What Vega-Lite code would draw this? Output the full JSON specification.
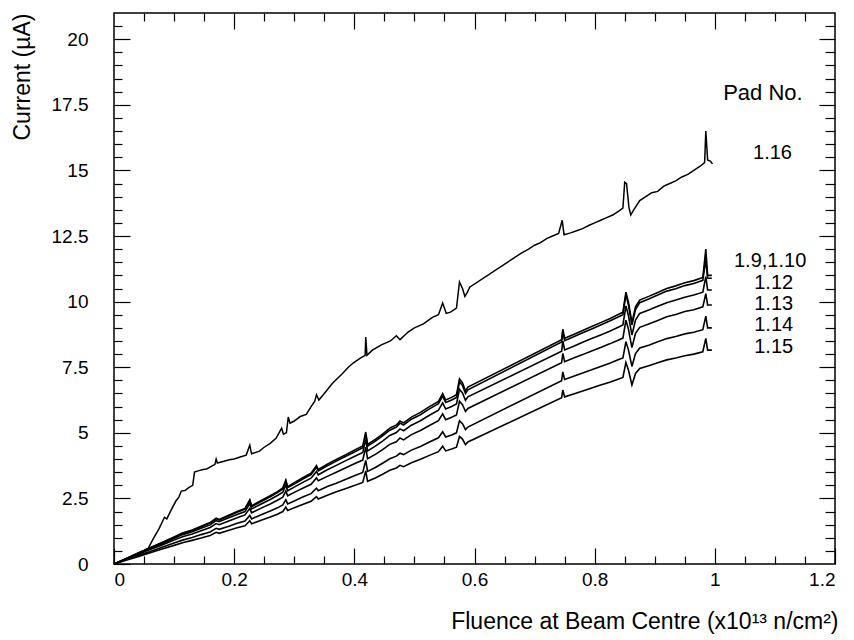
{
  "$schema": "https://vega.github.io/schema/vega-lite/v6.json",
  "autosize": {"type": "none"},
  "width": 721,
  "height": 551,
  "padding": {"left": 114, "top": 13, "right": 19, "bottom": 76},
  "background": "white",
  "config": {
    "view": {"stroke": "black", "strokeWidth": 1.5},
    "font": "Liberation Sans",
    "axis": {"domain": false, "grid": false, "tickColor": "black", "tickWidth": 1.2, "labelColor": "black", "titleColor": "black", "labelFont": "Liberation Sans", "titleFont": "Liberation Sans", "titleFontWeight": "normal", "labelFontSize": 19, "titleFontSize": 23}
  },
  "datasets": {
    "pad116": [
      {"x":0,"y":0},{"x":0.01,"y":0.1},{"x":0.02,"y":0.2},{"x":0.03,"y":0.32},{"x":0.04,"y":0.42},{"x":0.05,"y":0.52},{"x":0.057,"y":0.6},
      {"x":0.065,"y":0.95},{"x":0.075,"y":1.35},{"x":0.084,"y":1.78},{"x":0.088,"y":1.72},{"x":0.095,"y":2.05},{"x":0.103,"y":2.4},{"x":0.108,"y":2.55},
      {"x":0.112,"y":2.78},{"x":0.118,"y":2.8},{"x":0.125,"y":2.92},{"x":0.131,"y":3.0},{"x":0.134,"y":3.5},{"x":0.14,"y":3.55},{"x":0.148,"y":3.6},
      {"x":0.154,"y":3.62},{"x":0.162,"y":3.72},{"x":0.168,"y":3.8},{"x":0.17,"y":4.0},{"x":0.172,"y":3.85},{"x":0.18,"y":3.9},{"x":0.192,"y":3.97},
      {"x":0.2,"y":4.0},{"x":0.21,"y":4.08},{"x":0.22,"y":4.15},{"x":0.226,"y":4.53},{"x":0.229,"y":4.2},{"x":0.242,"y":4.3},{"x":0.25,"y":4.45},
      {"x":0.26,"y":4.6},{"x":0.27,"y":4.8},{"x":0.279,"y":5.18},{"x":0.282,"y":4.95},{"x":0.287,"y":5.0},{"x":0.29,"y":5.6},{"x":0.293,"y":5.37},
      {"x":0.3,"y":5.45},{"x":0.31,"y":5.62},{"x":0.32,"y":5.7},{"x":0.328,"y":6.0},{"x":0.334,"y":6.2},{"x":0.337,"y":6.45},{"x":0.341,"y":6.25},
      {"x":0.35,"y":6.5},{"x":0.364,"y":6.9},{"x":0.38,"y":7.25},{"x":0.39,"y":7.5},{"x":0.398,"y":7.66},{"x":0.41,"y":7.85},{"x":0.418,"y":7.95},
      {"x":0.419,"y":8.65},{"x":0.421,"y":7.95},{"x":0.43,"y":8.15},{"x":0.445,"y":8.35},{"x":0.46,"y":8.5},{"x":0.47,"y":8.7},{"x":0.476,"y":8.55},
      {"x":0.49,"y":8.85},{"x":0.5,"y":9.0},{"x":0.515,"y":9.15},{"x":0.53,"y":9.4},{"x":0.54,"y":9.5},{"x":0.547,"y":9.95},{"x":0.553,"y":9.55},
      {"x":0.56,"y":9.6},{"x":0.57,"y":9.75},{"x":0.575,"y":10.75},{"x":0.58,"y":10.5},{"x":0.584,"y":10.2},{"x":0.588,"y":10.35},{"x":0.592,"y":10.55},
      {"x":0.678,"y":11.85},{"x":0.69,"y":12.0},{"x":0.7,"y":12.15},{"x":0.71,"y":12.25},{"x":0.72,"y":12.4},{"x":0.73,"y":12.5},{"x":0.74,"y":12.6},
      {"x":0.746,"y":13.1},{"x":0.749,"y":12.55},{"x":0.76,"y":12.62},{"x":0.77,"y":12.7},{"x":0.78,"y":12.78},{"x":0.79,"y":12.9},{"x":0.8,"y":13.0},
      {"x":0.81,"y":13.1},{"x":0.82,"y":13.2},{"x":0.83,"y":13.3},{"x":0.84,"y":13.45},{"x":0.847,"y":13.56},{"x":0.85,"y":14.55},{"x":0.853,"y":14.5},
      {"x":0.857,"y":13.6},{"x":0.86,"y":13.3},{"x":0.865,"y":13.5},{"x":0.875,"y":13.85},{"x":0.885,"y":14.0},{"x":0.895,"y":14.15},{"x":0.905,"y":14.2},
      {"x":0.915,"y":14.4},{"x":0.925,"y":14.5},{"x":0.935,"y":14.6},{"x":0.945,"y":14.75},{"x":0.955,"y":14.85},{"x":0.965,"y":15.0},{"x":0.975,"y":15.15},
      {"x":0.983,"y":15.3},{"x":0.985,"y":16.5},{"x":0.988,"y":15.4},{"x":0.993,"y":15.35},{"x":0.996,"y":15.25}
    ],
    "lower": [
      {"x":0,"p19":0,"p110":0,"p112":0,"p113":0,"p114":0,"p115":0},
      {"x":0.02,"p19":0.2,"p110":0.2,"p112":0.19,"p113":0.18,"p114":0.16,"p115":0.14},
      {"x":0.04,"p19":0.41,"p110":0.4,"p112":0.39,"p113":0.36,"p114":0.32,"p115":0.28},
      {"x":0.059,"p19":0.61,"p110":0.6,"p112":0.58,"p113":0.54,"p114":0.47,"p115":0.42},
      {"x":0.08,"p19":0.82,"p110":0.81,"p112":0.77,"p113":0.72,"p114":0.64,"p115":0.57},
      {"x":0.1,"p19":1.03,"p110":1.01,"p112":0.97,"p113":0.91,"p114":0.8,"p115":0.71},
      {"x":0.114,"p19":1.18,"p110":1.16,"p112":1.12,"p113":1.04,"p114":0.91,"p115":0.81},
      {"x":0.13,"p19":1.3,"p110":1.28,"p112":1.23,"p113":1.14,"p114":1.01,"p115":0.9},
      {"x":0.145,"p19":1.44,"p110":1.42,"p112":1.36,"p113":1.27,"p114":1.12,"p115":0.99},
      {"x":0.16,"p19":1.58,"p110":1.56,"p112":1.49,"p113":1.39,"p114":1.22,"p115":1.09},
      {"x":0.17,"p19":1.75,"p110":1.72,"p112":1.65,"p113":1.54,"p114":1.36,"p115":1.21},
      {"x":0.175,"p19":1.7,"p110":1.67,"p112":1.61,"p113":1.5,"p114":1.32,"p115":1.17},
      {"x":0.19,"p19":1.85,"p110":1.82,"p112":1.75,"p113":1.63,"p114":1.43,"p115":1.28},
      {"x":0.205,"p19":2.0,"p110":1.97,"p112":1.89,"p113":1.76,"p114":1.55,"p115":1.38},
      {"x":0.218,"p19":2.12,"p110":2.09,"p112":2.0,"p113":1.87,"p114":1.64,"p115":1.46},
      {"x":0.226,"p19":2.45,"p110":2.41,"p112":2.3,"p113":2.12,"p114":1.85,"p115":1.65},
      {"x":0.229,"p19":2.22,"p110":2.19,"p112":2.1,"p113":1.95,"p114":1.72,"p115":1.53},
      {"x":0.245,"p19":2.42,"p110":2.38,"p112":2.29,"p113":2.13,"p114":1.88,"p115":1.67},
      {"x":0.26,"p19":2.6,"p110":2.56,"p112":2.46,"p113":2.29,"p114":2.02,"p115":1.79},
      {"x":0.272,"p19":2.76,"p110":2.72,"p112":2.61,"p113":2.43,"p114":2.14,"p115":1.9},
      {"x":0.281,"p19":2.9,"p110":2.86,"p112":2.74,"p113":2.55,"p114":2.25,"p115":2.0},
      {"x":0.286,"p19":3.2,"p110":3.15,"p112":3.0,"p113":2.78,"p114":2.45,"p115":2.17},
      {"x":0.289,"p19":2.95,"p110":2.91,"p112":2.79,"p113":2.6,"p114":2.29,"p115":2.04},
      {"x":0.3,"p19":3.1,"p110":3.05,"p112":2.93,"p113":2.73,"p114":2.4,"p115":2.14},
      {"x":0.315,"p19":3.3,"p110":3.25,"p112":3.12,"p113":2.9,"p114":2.56,"p115":2.28},
      {"x":0.328,"p19":3.46,"p110":3.41,"p112":3.27,"p113":3.04,"p114":2.68,"p115":2.39},
      {"x":0.337,"p19":3.75,"p110":3.69,"p112":3.53,"p113":3.28,"p114":2.89,"p115":2.57},
      {"x":0.34,"p19":3.6,"p110":3.55,"p112":3.4,"p113":3.17,"p114":2.79,"p115":2.48},
      {"x":0.355,"p19":3.8,"p110":3.74,"p112":3.59,"p113":3.34,"p114":2.95,"p115":2.62},
      {"x":0.37,"p19":3.98,"p110":3.92,"p112":3.76,"p113":3.5,"p114":3.08,"p115":2.75},
      {"x":0.385,"p19":4.16,"p110":4.1,"p112":3.93,"p113":3.66,"p114":3.22,"p115":2.87},
      {"x":0.4,"p19":4.34,"p110":4.27,"p112":4.1,"p113":3.82,"p114":3.36,"p115":2.99},
      {"x":0.414,"p19":4.5,"p110":4.43,"p112":4.25,"p113":3.96,"p114":3.49,"p115":3.11},
      {"x":0.419,"p19":5.03,"p110":4.95,"p112":4.75,"p113":4.45,"p114":3.95,"p115":3.55},
      {"x":0.422,"p19":4.56,"p110":4.49,"p112":4.31,"p113":4.01,"p114":3.53,"p115":3.15},
      {"x":0.435,"p19":4.75,"p110":4.68,"p112":4.49,"p113":4.18,"p114":3.68,"p115":3.28},
      {"x":0.447,"p19":4.95,"p110":4.88,"p112":4.68,"p113":4.36,"p114":3.84,"p115":3.42},
      {"x":0.459,"p19":5.18,"p110":5.1,"p112":4.9,"p113":4.56,"p114":4.01,"p115":3.57},
      {"x":0.47,"p19":5.3,"p110":5.22,"p112":5.01,"p113":4.66,"p114":4.11,"p115":3.66},
      {"x":0.476,"p19":5.45,"p110":5.37,"p112":5.15,"p113":4.8,"p114":4.22,"p115":3.76},
      {"x":0.482,"p19":5.38,"p110":5.3,"p112":5.08,"p113":4.73,"p114":4.17,"p115":3.71},
      {"x":0.495,"p19":5.6,"p110":5.52,"p112":5.29,"p113":4.93,"p114":4.34,"p115":3.86},
      {"x":0.51,"p19":5.78,"p110":5.69,"p112":5.46,"p113":5.09,"p114":4.48,"p115":3.99},
      {"x":0.525,"p19":6.0,"p110":5.91,"p112":5.67,"p113":5.28,"p114":4.65,"p115":4.14},
      {"x":0.54,"p19":6.2,"p110":6.11,"p112":5.86,"p113":5.46,"p114":4.81,"p115":4.28},
      {"x":0.547,"p19":6.5,"p110":6.4,"p112":6.14,"p113":5.72,"p114":5.04,"p115":4.49},
      {"x":0.552,"p19":6.25,"p110":6.16,"p112":5.91,"p113":5.5,"p114":4.84,"p115":4.31},
      {"x":0.562,"p19":6.35,"p110":6.25,"p112":6.0,"p113":5.59,"p114":4.92,"p115":4.38},
      {"x":0.57,"p19":6.45,"p110":6.35,"p112":6.1,"p113":5.68,"p114":5.0,"p115":4.45},
      {"x":0.575,"p19":7.05,"p110":6.94,"p112":6.66,"p113":6.2,"p114":5.46,"p115":4.86},
      {"x":0.58,"p19":6.9,"p110":6.8,"p112":6.52,"p113":6.07,"p114":5.35,"p115":4.76},
      {"x":0.585,"p19":6.6,"p110":6.5,"p112":6.24,"p113":5.81,"p114":5.12,"p115":4.55},
      {"x":0.589,"p19":6.74,"p110":6.64,"p112":6.37,"p113":5.93,"p114":5.22,"p115":4.65},
      {"x":0.745,"p19":8.55,"p110":8.46,"p112":8.11,"p113":7.67,"p114":6.99,"p115":6.34},
      {"x":0.747,"p19":8.95,"p110":8.86,"p112":8.5,"p113":8.03,"p114":7.32,"p115":6.63},
      {"x":0.75,"p19":8.6,"p110":8.51,"p112":8.16,"p113":7.71,"p114":7.03,"p115":6.37},
      {"x":0.765,"p19":8.75,"p110":8.66,"p112":8.3,"p113":7.85,"p114":7.16,"p115":6.48},
      {"x":0.78,"p19":8.9,"p110":8.81,"p112":8.45,"p113":7.98,"p114":7.28,"p115":6.59},
      {"x":0.795,"p19":9.05,"p110":8.96,"p112":8.59,"p113":8.12,"p114":7.4,"p115":6.71},
      {"x":0.81,"p19":9.2,"p110":9.11,"p112":8.73,"p113":8.25,"p114":7.53,"p115":6.82},
      {"x":0.825,"p19":9.35,"p110":9.26,"p112":8.87,"p113":8.39,"p114":7.65,"p115":6.93},
      {"x":0.84,"p19":9.52,"p110":9.42,"p112":9.03,"p113":8.54,"p114":7.79,"p115":7.05},
      {"x":0.847,"p19":9.6,"p110":9.5,"p112":9.11,"p113":8.61,"p114":7.85,"p115":7.11},
      {"x":0.852,"p19":10.36,"p110":10.26,"p112":9.83,"p113":9.29,"p114":8.47,"p115":7.68},
      {"x":0.856,"p19":10.0,"p110":9.9,"p112":9.49,"p113":8.97,"p114":8.18,"p115":7.41},
      {"x":0.862,"p19":9.2,"p110":9.11,"p112":8.73,"p113":8.25,"p114":7.53,"p115":6.82},
      {"x":0.868,"p19":9.8,"p110":9.7,"p112":9.3,"p113":8.79,"p114":8.02,"p115":7.26},
      {"x":0.875,"p19":10.06,"p110":9.96,"p112":9.55,"p113":9.02,"p114":8.23,"p115":7.45},
      {"x":0.89,"p19":10.2,"p110":10.1,"p112":9.68,"p113":9.15,"p114":8.34,"p115":7.56},
      {"x":0.905,"p19":10.35,"p110":10.25,"p112":9.82,"p113":9.28,"p114":8.47,"p115":7.67},
      {"x":0.92,"p19":10.5,"p110":10.4,"p112":9.96,"p113":9.42,"p114":8.59,"p115":7.78},
      {"x":0.935,"p19":10.6,"p110":10.49,"p112":10.06,"p113":9.51,"p114":8.67,"p115":7.85},
      {"x":0.95,"p19":10.72,"p110":10.61,"p112":10.17,"p113":9.62,"p114":8.77,"p115":7.94},
      {"x":0.965,"p19":10.8,"p110":10.69,"p112":10.25,"p113":9.69,"p114":8.83,"p115":8.0},
      {"x":0.98,"p19":10.92,"p110":10.81,"p112":10.36,"p113":9.8,"p114":8.93,"p115":8.09},
      {"x":0.985,"p19":12.0,"p110":11.6,"p112":10.95,"p113":10.3,"p114":9.45,"p115":8.6},
      {"x":0.988,"p19":11.0,"p110":10.89,"p112":10.44,"p113":9.87,"p114":9.0,"p115":8.15},
      {"x":0.995,"p19":11.0,"p110":10.89,"p112":10.44,"p113":9.87,"p114":9.0,"p115":8.15}
    ],
    "labels": [
      {"x":1.096,"y":15.65,"t":"1.16"},
      {"x":1.092,"y":11.55,"t":"1.9,1.10"},
      {"x":1.098,"y":10.72,"t":"1.12"},
      {"x":1.098,"y":9.9,"t":"1.13"},
      {"x":1.098,"y":9.1,"t":"1.14"},
      {"x":1.098,"y":8.28,"t":"1.15"}
    ],
    "header": [
      {"x":1.08,"y":17.94,"t":"Pad No."}
    ]
  },
  "resolve": {"axis": {"x": "independent", "y": "independent"}},
  "layer": [
    {
      "data": {"name": "lower"},
      "transform": [{"fold": ["p19","p110","p112","p113","p114","p115"], "as": ["pad","y"]}],
      "mark": {"type": "line", "color": "black", "strokeWidth": 1.6},
      "encoding": {
        "x": {"field": "x", "type": "quantitative",
          "scale": {"domain": [0, 1.2], "nice": false, "zero": false},
          "axis": {"orient": "bottom", "values": [0,0.2,0.4,0.6,0.8,1,1.2], "labelExpr": "'' + datum.value", "tickSize": -16, "labelPadding": 22,
            "title": "Fluence at Beam Centre (x10¹³ n/cm²)", "titleX": 724, "titleY": 64, "titleAlign": "right", "titleBaseline": "alphabetic", "titleAngle": 0}},
        "y": {"field": "y", "type": "quantitative",
          "scale": {"domain": [0, 21], "nice": false, "zero": false},
          "axis": {"orient": "left", "values": [0,2.5,5,7.5,10,12.5,15,17.5,20], "labelExpr": "'' + datum.value", "tickSize": -16, "labelPadding": 42,
            "title": "Current (µA)", "titleX": -92, "titleY": 0, "titleAngle": -90, "titleAlign": "right", "titleBaseline": "middle"}},
        "detail": {"field": "pad"}
      }
    },
    {
      "data": {"name": "pad116"},
      "mark": {"type": "line", "color": "black", "strokeWidth": 1.5},
      "encoding": {
        "x": {"field": "x", "type": "quantitative",
          "axis": {"orient": "bottom", "values": [0.05,0.1,0.15,0.25,0.3,0.35,0.45,0.5,0.55,0.65,0.7,0.75,0.85,0.9,0.95,1.05,1.1,1.15], "tickSize": -8, "labels": false, "title": null}},
        "y": {"field": "y", "type": "quantitative",
          "axis": {"orient": "left", "values": [0.5,1,1.5,2,3,3.5,4,4.5,5.5,6,6.5,7,8,8.5,9,9.5,10.5,11,11.5,12,13,13.5,14,14.5,15.5,16,16.5,17,18,18.5,19,19.5,20.5], "tickSize": -8, "labels": false, "title": null}}
      }
    },
    {
      "data": {"name": "labels"},
      "mark": {"type": "text", "fontSize": 20, "font": "Liberation Sans", "align": "center", "baseline": "middle", "color": "black"},
      "encoding": {
        "x": {"field": "x", "type": "quantitative",
          "axis": {"orient": "top", "values": [0.05,0.1,0.15,0.25,0.3,0.35,0.45,0.5,0.55,0.65,0.7,0.75,0.85,0.9,0.95,1.05,1.1,1.15], "tickSize": -8, "labels": false, "title": null}},
        "y": {"field": "y", "type": "quantitative",
          "axis": {"orient": "right", "values": [2.5,5,7.5,10,12.5,15,17.5,20], "tickSize": -16, "labels": false, "title": null}},
        "text": {"field": "t"}
      }
    },
    {
      "data": {"name": "header"},
      "mark": {"type": "text", "fontSize": 22, "font": "Liberation Sans", "align": "center", "baseline": "middle", "color": "black"},
      "encoding": {
        "x": {"field": "x", "type": "quantitative",
          "axis": {"orient": "top", "values": [0.2,0.4,0.6,0.8,1], "tickSize": -16, "labels": false, "title": null}},
        "y": {"field": "y", "type": "quantitative",
          "axis": {"orient": "right", "values": [0.5,1,1.5,2,3,3.5,4,4.5,5.5,6,6.5,7,8,8.5,9,9.5,10.5,11,11.5,12,13,13.5,14,14.5,15.5,16,16.5,17,18,18.5,19,19.5,20.5], "tickSize": -10, "labels": false, "title": null}},
        "text": {"field": "t"}
      }
    }
  ]
}
